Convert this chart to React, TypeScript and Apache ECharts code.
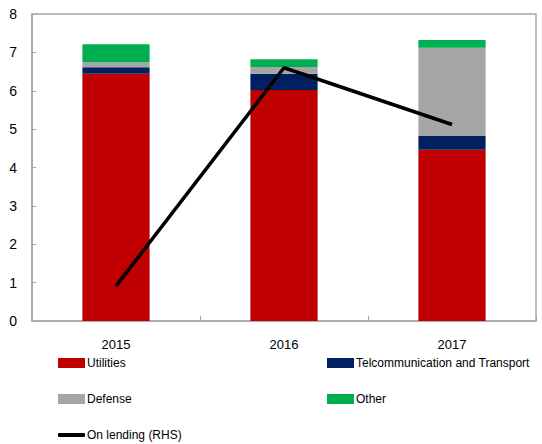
import React, { useEffect, useRef } from "react";
import * as echarts from "echarts";

const years = ["2015", "2016", "2017"];
const utilities = [6.44, 6.02, 4.46];
const telecom = [0.17, 0.42, 0.36];
const defense = [0.13, 0.18, 2.3];
const other = [0.47, 0.2, 0.2];
const onLending = [0.91, 6.6, 5.12];
const yTicks = [0, 1, 2, 3, 4, 5, 6, 7, 8];

const FONT = "Liberation Sans";

export default function App() {
  const ref = useRef<HTMLDivElement>(null);
  useEffect(() => {
    if (!ref.current) return;
    const chart = echarts.init(ref.current, null, { renderer: "svg" });
    const mkLegend = (name: string, left: number, top: number, extra: any = {}) => ({
      data: [name],
      left,
      top,
      padding: 0,
      itemWidth: 27,
      itemHeight: 10,
      icon: "rect",
      textStyle: { fontFamily: FONT, fontSize: 12, color: "#000", padding: [0, 0, 0, -3] },
      ...extra,
    });
    chart.setOption({
      animation: false,
      textStyle: { fontFamily: FONT },
      grid: {
        left: 32,
        right: 6,
        top: 14,
        bottom: 123,
        show: true,
        borderColor: "#a6a6a6",
        borderWidth: 1.5,
      },
      legend: [
        mkLegend("Utilities", 58, 357),
        mkLegend("Telcommunication and Transport", 327, 357),
        mkLegend("Defense", 58, 393),
        mkLegend("Other", 327, 393),
        mkLegend("On lending (RHS)", 58, 429, { icon: "roundRect", itemHeight: 4 }),
      ],
      xAxis: {
        type: "category",
        data: years,
        axisLine: { lineStyle: { color: "#a6a6a6", width: 1.5 } },
        axisTick: { show: true, inside: true, length: 5, lineStyle: { color: "#a6a6a6" } },
        axisLabel: { color: "#000", fontSize: 13, margin: 17, fontFamily: FONT },
      },
      yAxis: [
        {
          type: "value",
          min: yTicks[0],
          max: yTicks[yTicks.length - 1],
          interval: 1,
          axisLine: { show: true, lineStyle: { color: "#a6a6a6", width: 1.5 } },
          axisTick: { show: true, inside: true, length: 4, lineStyle: { color: "#a6a6a6" } },
          splitLine: { show: false },
          axisLabel: { color: "#000", fontSize: 14, margin: 15, fontFamily: FONT },
        },
        {
          type: "value",
          min: 0,
          max: 8,
          show: false,
          splitLine: { show: false },
        },
      ],
      series: [
        { name: "Utilities", type: "bar", stack: "a", data: utilities, barWidth: "40%", itemStyle: { color: "#c00000" } },
        { name: "Telcommunication and Transport", type: "bar", stack: "a", data: telecom, itemStyle: { color: "#002060" } },
        { name: "Defense", type: "bar", stack: "a", data: defense, itemStyle: { color: "#a6a6a6" } },
        { name: "Other", type: "bar", stack: "a", data: other, itemStyle: { color: "#00b050" } },
        {
          name: "On lending (RHS)",
          type: "line",
          yAxisIndex: 1,
          data: onLending,
          symbol: "none",
          lineStyle: { color: "#000", width: 3.5 },
          itemStyle: { color: "#000" },
        },
      ],
    });
    return () => chart.dispose();
  }, []);
  return <div ref={ref} style={{ width: 542, height: 444, position: "absolute", left: 0, top: 0 }} />;
}
